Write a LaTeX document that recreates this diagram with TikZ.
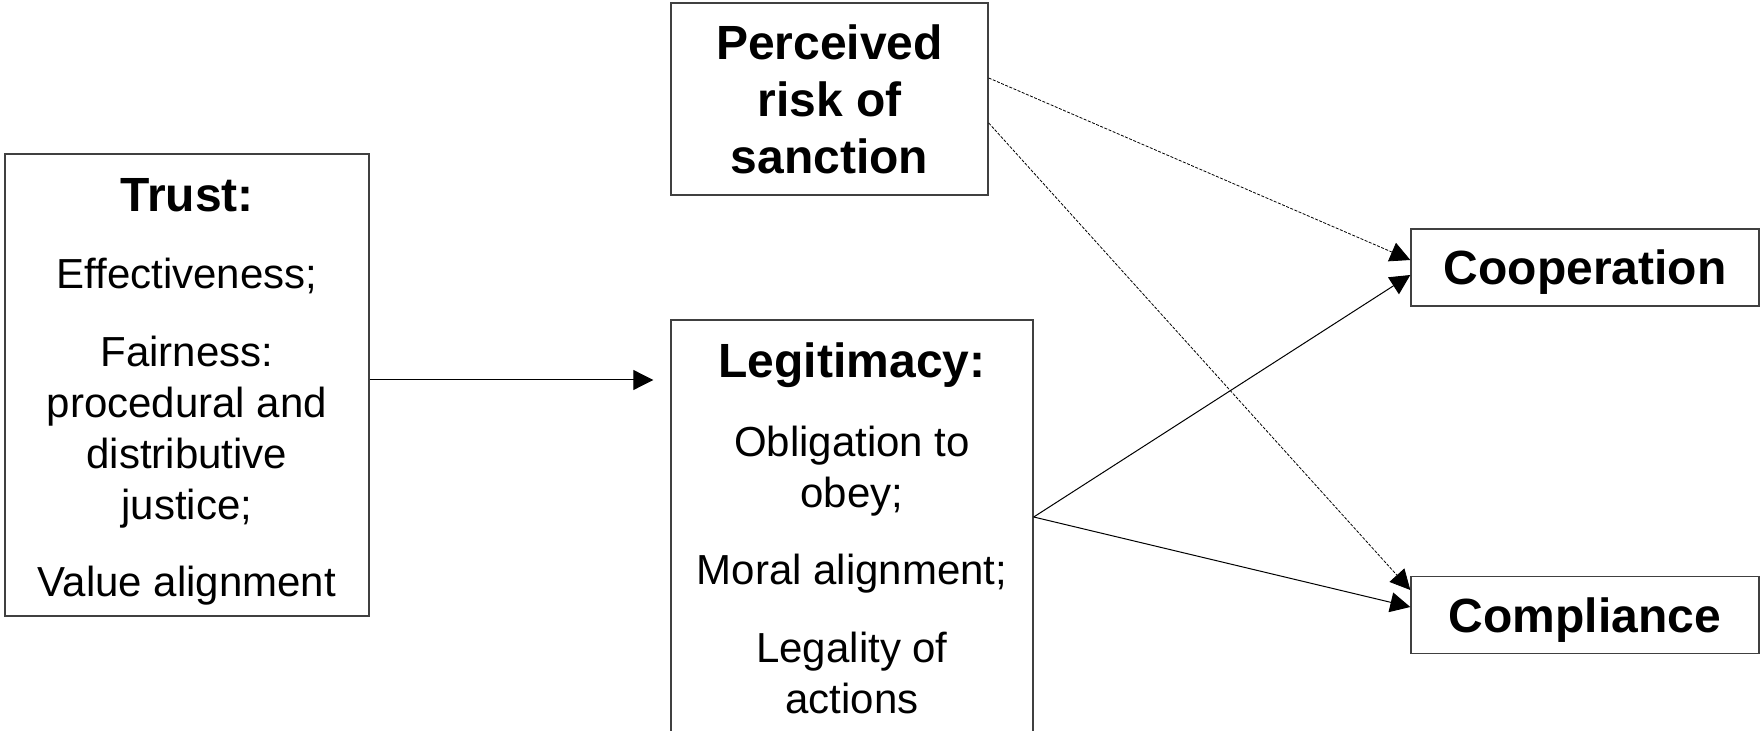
\documentclass[tikz,border=0pt]{standalone}
\usepackage{fontspec}
\setmainfont{Liberation Sans}
\usetikzlibrary{calc, arrows.meta}
\newcommand{\boxhead}[1]{{\fontsize{24}{28.5}\selectfont\bfseries #1}}

\begin{document}
\begin{tikzpicture}[x=0.5pt, y=-0.5pt, >={Triangle[length=10pt, width=10pt]},
  box/.style={draw=black!75, line width=0.7pt, inner sep=0pt, align=center,
    font=\fontsize{21}{25.5}\selectfont},
  outcome/.style={box, minimum width=174pt, minimum height=38.5pt, text depth=0pt,
    font=\fontsize{24}{28.5}\selectfont\bfseries},
  conn/.style={->, line width=0.5pt},
  risk/.style={conn, line width=0.4pt, dash pattern=on 1.5pt off 0.75pt}]

% canvas in pixel units: 1760 x 731, origin top left
\useasboundingbox (0,0) rectangle (1760,731);
\clip (0,0) rectangle (1760,731);

%% ── antecedents ──────────────────────────────────────────────────
\node[box, minimum width=182pt, minimum height=231pt] (trust) at (187,385)
  {\rule{0pt}{23.2pt}\boxhead{Trust:}\\[13pt]
   Effectiveness;\\[13.5pt]
   Fairness:\\ procedural and\\ distributive\\ justice;\\[13pt]
   Value alignment};

\node[box, minimum width=158.5pt, minimum height=96pt,
  font=\fontsize{24}{28.5}\selectfont\bfseries] (perc) at (829.5,99)
  {Perceived\\ risk of\\ sanction};

%% ── mediator (runs off the bottom edge) ──────────────────────────
\node[box, minimum width=181pt, minimum height=208pt] (legit) at (852,528)
  {\boxhead{Legitimacy:}\\[14pt]
   Obligation to\\ obey;\\[13pt]
   Moral alignment;\\[13.5pt]
   Legality of\\ actions};

%% ── outcomes ─────────────────────────────────────────────────────
\node[outcome] (coop)  at (1585,267.5) {Cooperation};
\node[outcome] (compl) at (1585,615)   {Compliance};

%% ── paths ────────────────────────────────────────────────────────
\draw[conn, shorten >=8.5pt] ($(trust.east)+(0,-5)$) -- ($(legit.west)+(0,-148)$);
\draw[risk] ($(perc.east)+(0,-21)$) -- ($(coop.west)+(0,-7.5)$);
\draw[risk] ($(perc.east)+(0,24)$)  -- ($(compl.west)+(0,-25)$);
\draw[conn] ($(legit.east)+(0,-11)$) coordinate (fork) -- ($(coop.west)+(0,7.5)$);
\draw[conn] (fork) -- ($(compl.west)+(0,-8)$);

\end{tikzpicture}
\end{document}
